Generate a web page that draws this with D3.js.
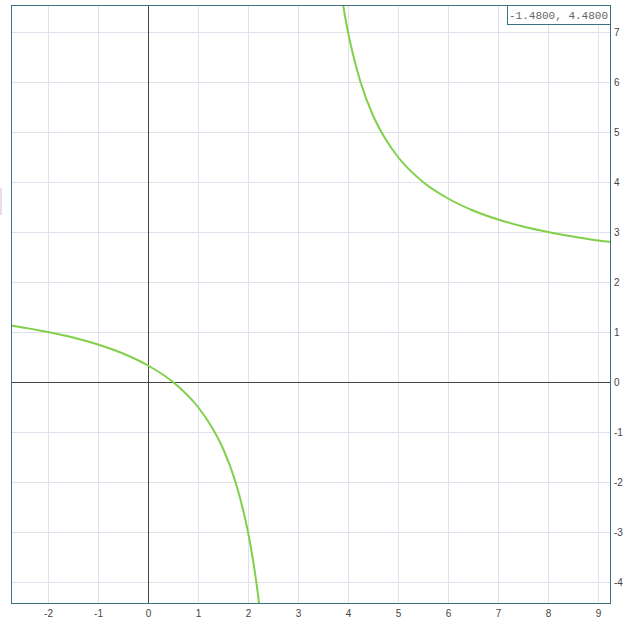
<!DOCTYPE html>
<html>
<head>
<meta charset="utf-8">
<script src="https://cdn.jsdelivr.net/npm/d3@7"></script>
<style>
  body { margin: 0; background: #fff; }
  .tick text { font-family: "Liberation Sans", Arial, sans-serif; font-size: 10px; fill: #444; }
</style>
</head>
<body>
<script>
var w = 639;
var h = 630;

// values
var xDomain = [-2.74, 9.26];
var yDomain = [-4.44, 7.54];
var xTicks = [-2, -1, 0, 1, 2, 3, 4, 5, 6, 7, 8, 9];
var yTicks = [-4, -3, -2, -1, 0, 1, 2, 3, 4, 5, 6, 7];
var leftX = [-2.74, -2, -1.5, -1, -0.5, 0, 0.5, 1, 1.25, 1.5, 1.75, 1.9, 2.0, 2.1, 2.2, 2.25];
var leftY = [1.13, 1.0, 0.89, 0.75, 0.57, 0.33, 0.0, -0.5, -0.86, -1.33, -2.0, -2.55, -3.0, -3.56, -4.25, -4.67];
var rightX = [3.88, 3.95, 4.0, 4.1, 4.25, 4.5, 4.75, 5, 5.5, 6, 6.5, 7, 7.5, 8, 8.5, 9, 9.26];
var rightY = [7.68, 7.26, 7.0, 6.55, 6.0, 5.33, 4.86, 4.5, 4.0, 3.67, 3.43, 3.25, 3.11, 3.0, 2.91, 2.83, 2.8];
var coordText = '-1.4800, 4.4800';

var pLeft = 11, pTop = 5, pRight = 611, pBottom = 604;

var x = d3.scaleLinear().domain(xDomain).range([pLeft, pRight]);
var y = d3.scaleLinear().domain(yDomain).range([pBottom, pTop]);
var fmt = function(d){ return String(d); };

var svg = d3.select('body').append('svg')
    .attr('width', w)
    .attr('height', h);

// faint marker at left edge
svg.append('rect').attr('x', 0).attr('y', 188).attr('width', 2).attr('height', 27)
    .attr('fill', '#eadde6');

svg.append('clipPath').attr('id', 'clip').append('rect')
    .attr('x', pLeft).attr('y', pTop)
    .attr('width', pRight - pLeft).attr('height', pBottom - pTop);

// grid
svg.append('g').selectAll('line').data(xTicks).enter().append('line')
    .attr('x1', function(d){ return Math.round(x(d)) + 0.5; })
    .attr('x2', function(d){ return Math.round(x(d)) + 0.5; })
    .attr('y1', pTop).attr('y2', pBottom)
    .attr('stroke', '#dfe2ec');
svg.append('g').selectAll('line').data(yTicks).enter().append('line')
    .attr('y1', function(d){ return Math.round(y(d)) + 0.5; })
    .attr('y2', function(d){ return Math.round(y(d)) + 0.5; })
    .attr('x1', pLeft).attr('x2', pRight)
    .attr('stroke', '#dfe2ec');

// axes through origin
svg.append('line')
    .attr('x1', Math.round(x(0)) + 0.5).attr('x2', Math.round(x(0)) + 0.5)
    .attr('y1', pTop).attr('y2', pBottom)
    .attr('stroke', '#444');
svg.append('line')
    .attr('y1', Math.round(y(0)) + 0.5).attr('y2', Math.round(y(0)) + 0.5)
    .attr('x1', pLeft).attr('x2', pRight)
    .attr('stroke', '#444');

// curve
var line = d3.line()
    .x(function(d){ return x(d[0]); })
    .y(function(d){ return y(d[1]); })
    .curve(d3.curveMonotoneX);

var branches = [d3.zip(leftX, leftY), d3.zip(rightX, rightY)];
svg.append('g').attr('clip-path', 'url(#clip)')
  .selectAll('path').data(branches).enter().append('path')
    .attr('d', line)
    .attr('fill', 'none')
    .attr('stroke', '#80d04b')
    .attr('stroke-width', 2);

// border
svg.append('rect')
    .attr('x', pLeft + 0.5).attr('y', pTop + 0.5)
    .attr('width', pRight - pLeft - 1).attr('height', pBottom - pTop - 1)
    .attr('fill', 'none')
    .attr('stroke', '#3d7080');

// tick labels
var xAxis = svg.append('g')
    .attr('transform', 'translate(0,' + (pBottom + 3) + ')')
    .call(d3.axisBottom(x).tickValues(xTicks).tickSize(0).tickFormat(fmt));
xAxis.select('.domain').remove();

var yAxis = svg.append('g')
    .attr('transform', 'translate(' + (pRight + 0) + ',0)')
    .call(d3.axisRight(y).tickValues(yTicks).tickSize(0).tickFormat(fmt));
yAxis.select('.domain').remove();

// coordinate box
svg.append('rect')
    .attr('x', 507.5).attr('y', pTop + 0.5)
    .attr('width', pRight - 508).attr('height', 19)
    .attr('fill', '#fff')
    .attr('stroke', '#3d7080');
svg.append('text')
    .attr('x', 509).attr('y', 18.5)
    .attr('font-family', '"Liberation Mono", "DejaVu Sans Mono", monospace')
    .attr('font-size', '11px')
    .attr('fill', '#666')
    .text(coordText);
</script>
</body>
</html>
